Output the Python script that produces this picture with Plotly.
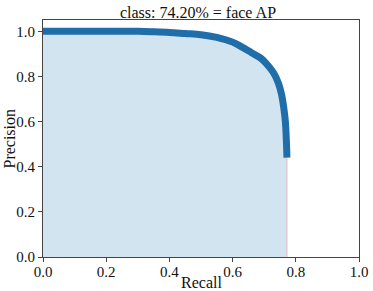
import plotly.graph_objects as go

recall = [0.0, 0.1, 0.2, 0.3, 0.35, 0.4, 0.45, 0.5, 0.55, 0.6, 0.63, 0.66,
          0.69, 0.71, 0.73, 0.745, 0.755, 0.762, 0.767, 0.770, 0.772]
precision = [1.0, 1.0, 1.0, 1.0, 0.998, 0.995, 0.99, 0.985, 0.973, 0.952, 0.93,
             0.905, 0.88, 0.852, 0.815, 0.77, 0.72, 0.66, 0.6, 0.52, 0.44]
title_text = "class: 74.20% = face AP"
x_title = "Recall"
y_title = "Precision"

font = dict(family="Liberation Serif, Times New Roman, serif", size=16, color="#111")
tick_font = dict(family="Liberation Serif, Times New Roman, serif", size=15, color="#111")

fig = go.Figure()
fig.add_trace(go.Scatter(
    x=recall + [recall[-1]], y=precision + [0],
    mode="lines", fill="tozeroy",
    fillcolor="rgba(31,119,180,0.2)",
    line=dict(color="rgba(235,180,195,1)", width=1),
    hoverinfo="skip", showlegend=False,
))
fig.add_trace(go.Scatter(
    x=recall, y=precision, mode="lines",
    line=dict(color="#1f6ea9", width=7, shape="spline"),
    showlegend=False,
))

axis_common = dict(
    showgrid=False, zeroline=False, showline=True, mirror=True,
    linecolor="#444", linewidth=1, ticks="outside", ticklen=4,
    tickcolor="#444", tickfont=tick_font, tickformat=".1f", dtick=0.2,
    automargin=False,
)
fig.update_layout(
    width=373, height=291,
    margin=dict(l=43, r=14, t=20, b=34),
    paper_bgcolor="white", plot_bgcolor="white",
    font=font,
    title=dict(text=title_text, x=198 / 373, xanchor="center",
               y=1 - 12.5 / 291, yanchor="middle", font=font),
    xaxis=dict(range=[0, 1], ticklabelstandoff=-3, **axis_common),
    yaxis=dict(range=[0, 1.05], **axis_common),
    annotations=[
        dict(text=x_title, xref="paper", yref="paper", x=0.5, y=-(282 - 257) / 237,
             xanchor="center", yanchor="middle", showarrow=False, font=font),
        dict(text=y_title, xref="paper", yref="paper", x=-(43 - 9) / 316,
             y=0.5, xanchor="center", yanchor="middle", showarrow=False,
             textangle=-90, font=font),
    ],
)
fig.write_html("out.html", config={"displayModeBar": False},
               post_script="document.body.style.margin='0';")
